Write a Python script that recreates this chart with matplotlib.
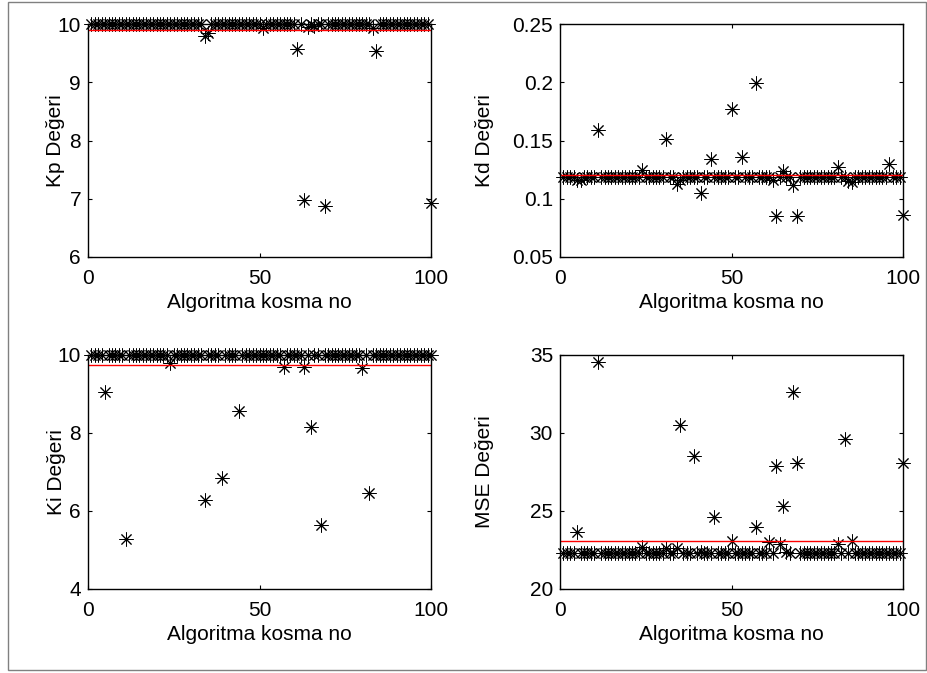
import numpy as np
import matplotlib
matplotlib.use('Agg')
import matplotlib.pyplot as plt
from matplotlib.patches import Rectangle
from matplotlib.ticker import FormatStrFormatter

plt.rcParams['font.family'] = ['Liberation Sans', 'DejaVu Sans']
plt.rcParams['font.size'] = 15

# run number 1..100
runs = np.arange(1, 101)

kp = [10.0, 10.0, 10.0, 10.0, 10.0, 10.0, 10.0, 10.0, 10.0, 10.0,
      10.0, 10.0, 10.0, 10.0, 10.0, 10.0, 10.0, 10.0, 10.0, 10.0,
      10.0, 10.0, 10.0, 10.0, 10.0, 10.0, 10.0, 10.0, 10.0, 10.0,
      10.0, 10.0, 10.0, 9.80, 9.84, 10.0, 10.0, 10.0, 10.0, 10.0,
      10.0, 10.0, 10.0, 10.0, 10.0, 10.0, 10.0, 10.0, 10.0, 10.0,
      9.93, 10.0, 10.0, 10.0, 10.0, 10.0, 10.0, 10.0, 10.0, 10.0,
      9.57, 10.0, 6.97, 9.95, 10.0, 9.96, 10.0, 10.0, 6.87, 10.0,
      10.0, 10.0, 10.0, 10.0, 10.0, 10.0, 10.0, 10.0, 10.0, 10.0,
      10.0, 10.0, 9.93, 9.53, 10.0, 10.0, 10.0, 10.0, 10.0, 10.0,
      10.0, 10.0, 10.0, 10.0, 10.0, 10.0, 10.0, 10.0, 10.0, 6.93]

kd = [0.119, 0.119, 0.119, 0.119, 0.116, 0.116, 0.119, 0.119, 0.119, 0.119,
      0.159, 0.119, 0.119, 0.119, 0.119, 0.119, 0.119, 0.119, 0.119, 0.119,
      0.119, 0.119, 0.119, 0.125, 0.119, 0.119, 0.119, 0.119, 0.119, 0.119,
      0.151, 0.119, 0.119, 0.113, 0.116, 0.119, 0.119, 0.119, 0.119, 0.119,
      0.105, 0.119, 0.119, 0.134, 0.119, 0.119, 0.119, 0.119, 0.119, 0.177,
      0.119, 0.119, 0.136, 0.119, 0.119, 0.119, 0.199, 0.119, 0.119, 0.119,
      0.119, 0.116, 0.085, 0.119, 0.124, 0.119, 0.119, 0.112, 0.085, 0.119,
      0.119, 0.119, 0.119, 0.119, 0.119, 0.119, 0.119, 0.119, 0.119, 0.119,
      0.127, 0.119, 0.119, 0.115, 0.114, 0.119, 0.119, 0.119, 0.119, 0.119,
      0.119, 0.119, 0.119, 0.119, 0.119, 0.130, 0.119, 0.119, 0.119, 0.086]

ki = [10.0, 10.0, 10.0, 10.0, 9.06, 10.0, 10.0, 10.0, 10.0, 10.0,
      5.28, 10.0, 10.0, 10.0, 10.0, 10.0, 10.0, 10.0, 10.0, 10.0,
      10.0, 10.0, 10.0, 9.79, 10.0, 10.0, 10.0, 10.0, 10.0, 10.0,
      10.0, 10.0, 10.0, 6.28, 10.0, 10.0, 10.0, 10.0, 6.85, 10.0,
      10.0, 10.0, 10.0, 8.57, 10.0, 10.0, 10.0, 10.0, 10.0, 10.0,
      10.0, 10.0, 10.0, 10.0, 10.0, 10.0, 9.70, 10.0, 10.0, 10.0,
      10.0, 10.0, 9.70, 10.0, 8.15, 10.0, 10.0, 5.63, 10.0, 10.0,
      10.0, 10.0, 10.0, 10.0, 10.0, 10.0, 10.0, 10.0, 10.0, 9.66,
      10.0, 6.47, 10.0, 10.0, 10.0, 10.0, 10.0, 10.0, 10.0, 10.0,
      10.0, 10.0, 10.0, 10.0, 10.0, 10.0, 10.0, 10.0, 10.0, 10.0]

mse = [22.33, 22.33, 22.33, 22.33, 23.67, 22.33, 22.33, 22.33, 22.33, 22.33,
       34.53, 22.33, 22.33, 22.33, 22.33, 22.33, 22.33, 22.33, 22.33, 22.33,
       22.33, 22.33, 22.33, 22.70, 22.33, 22.33, 22.33, 22.33, 22.33, 22.33,
       22.60, 22.33, 22.33, 22.60, 30.50, 22.33, 22.33, 22.33, 28.50, 22.33,
       22.40, 22.33, 22.33, 22.33, 24.60, 22.33, 22.33, 22.33, 22.33, 23.10,
       22.33, 22.33, 22.33, 22.33, 22.33, 22.33, 24.00, 22.33, 22.33, 22.33,
       23.00, 22.33, 27.90, 22.90, 25.30, 22.40, 22.33, 32.60, 28.10, 22.33,
       22.33, 22.33, 22.33, 22.33, 22.33, 22.33, 22.33, 22.33, 22.33, 22.33,
       22.90, 22.33, 29.60, 22.33, 23.10, 22.33, 22.33, 22.33, 22.33, 22.33,
       22.33, 22.33, 22.33, 22.33, 22.33, 22.33, 22.33, 22.33, 22.33, 28.10]

panels = [
    (kp, 'Kp Değeri', (6, 10), [6, 7, 8, 9, 10]),
    (kd, 'Kd Değeri', (0.05, 0.25), [0.05, 0.1, 0.15, 0.2, 0.25]),
    (ki, 'Ki Değeri', (4, 10), [4, 6, 8, 10]),
    (mse, 'MSE Değeri', (20, 35), [20, 25, 30, 35]),
]

W, H = 927, 673
fig = plt.figure(figsize=(W / 100, H / 100), dpi=100)

# axes boxes in pixels: left, top, right, bottom
boxes = [(88, 24, 431, 257), (560, 24, 903, 257),
         (88, 355, 431, 589), (560, 355, 903, 589)]
# x pixel of the y label centre
ylab_x = [56, 484, 56, 484]

# matlab style asterisk ('+' and 'x' on top of each other)
star = (8, 2, 0)

for (vals, ylab, ylim, yt), (l, t, r, b), lx in zip(panels, boxes, ylab_x):
    ax = fig.add_axes([l / W, 1 - b / H, (r - l) / W, (b - t) / H])
    ax.plot(runs, vals, linestyle='none', marker=star, color='k',
            markersize=10, markeredgewidth=0.7, clip_on=False)
    ax.axhline(np.mean(vals), color='r', lw=1)
    ax.set_xlim(0, 100)
    ax.set_ylim(*ylim)
    ax.set_xticks([0, 50, 100])
    ax.set_yticks(yt)
    ax.yaxis.set_major_formatter(FormatStrFormatter('%g'))
    ax.tick_params(direction='in', length=3, width=0.8, top=True, right=True,
                   labelsize=15)
    ax.tick_params(axis='x', pad=9)
    ax.tick_params(axis='y', pad=5)
    for s in ax.spines.values():
        s.set_linewidth(1.0)
    ax.set_xlabel('Algoritma kosma no', fontsize=15, labelpad=3)
    ax.set_ylabel(ylab, fontsize=15, va='center')
    ax.yaxis.set_label_coords((lx - l) / (r - l), 0.5)

fig.patches.append(Rectangle((8 / W, 3 / H), (926 - 8) / W, (671 - 3) / H,
                             transform=fig.transFigure, fill=False,
                             edgecolor='#808080', lw=1))

fig.savefig('out.png', dpi=100, facecolor='white')
